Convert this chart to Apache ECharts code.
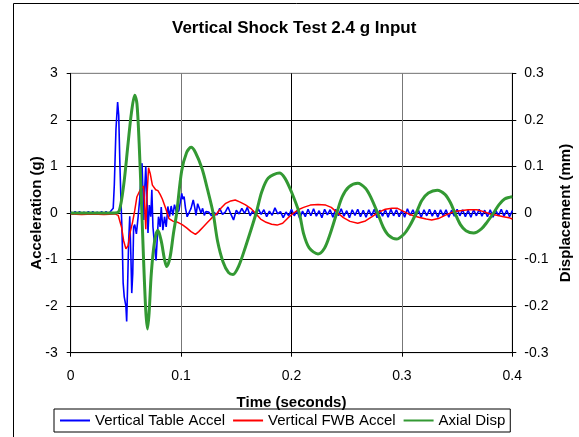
<!DOCTYPE html>
<html>
<head>
<meta charset="utf-8">
<script src="https://cdn.jsdelivr.net/npm/echarts@6/dist/echarts.min.js"></script>
<style>
  html, body { margin: 0; padding: 0; background: #fff; }
  #chart { width: 579px; height: 437px; }
</style>
</head>
<body>
<div id="chart"></div>
<script>
// time (s), acceleration (g)
const tableAccel = [
  [0.000, 0.02], [0.002, -0.03], [0.004, 0.03], [0.006, -0.02], [0.008, 0.03], [0.010, -0.03],
  [0.012, 0.02], [0.014, -0.03], [0.016, 0.03], [0.018, -0.02], [0.020, 0.03], [0.022, -0.03],
  [0.024, 0.02], [0.026, -0.02], [0.028, 0.03], [0.030, -0.03], [0.032, 0.03], [0.034, -0.02],
  [0.036, 0.03], [0.0375, 0.0], [0.0385, 0.1], [0.0395, 0.6], [0.041, 1.8], [0.0425, 2.38],
  [0.0435, 2.1], [0.0445, 1.1], [0.0455, 0.3], [0.0465, -0.4], [0.0475, -1.5], [0.0485, -1.8],
  [0.0500, -2.0], [0.0507, -2.33], [0.0515, -1.6], [0.0525, -0.6], [0.0535, -0.07], [0.0545, -0.9],
  [0.0553, -1.72], [0.0562, -1.3], [0.0570, -0.3], [0.0580, -0.25], [0.0595, -0.45], [0.0610, -0.1],
  [0.0625, 0.3], [0.0635, 0.7], [0.0646, 1.07], [0.0655, 0.4], [0.0662, -0.15], [0.0672, 0.6],
  [0.0680, 1.0], [0.0690, 0.4], [0.0700, -0.43], [0.0712, 0.17], [0.0725, -0.08], [0.0735, 0.5],
  [0.0745, -0.3], [0.0760, -0.7], [0.0773, -1.02], [0.0785, -0.5], [0.0795, -0.08], [0.0810, -0.3],
  [0.0820, 0.13], [0.0835, -0.37], [0.0850, -0.08], [0.0865, -0.3], [0.0880, 0.14], [0.0895, -0.08],
  [0.0910, 0.15], [0.0925, -0.05], [0.0940, 0.18], [0.0960, 0.0], [0.0980, 0.05], [0.1006, 0.42],
  [0.1015, 0.3], [0.1027, 0.35], [0.1040, 0.1], [0.1055, -0.08], [0.1070, -0.05], [0.1090, 0.1],
  [0.1110, 0.28], [0.1125, 0.1], [0.1135, -0.05], [0.1150, 0.2], [0.1165, 0.1], [0.1180, 0.0],
  [0.1195, 0.1], [0.1210, -0.05], [0.1225, 0.03],
  [0.125, 0.02], [0.1275, -0.06], [0.130, 0.01], [0.1325, -0.04], [0.135, 0.1], [0.1375, -0.03],
  [0.140, 0.02], [0.1425, 0.13], [0.145, -0.02], [0.1475, -0.15], [0.150, 0.06], [0.1525, -0.02],
  [0.155, 0.1], [0.1575, -0.01], [0.160, 0.12], [0.1625, -0.06], [0.165, 0.05], [0.1675, -0.07],
  [0.170, 0.09], [0.1725, -0.03], [0.175, 0.07], [0.1775, -0.08], [0.180, 0.04], [0.1825, -0.05],
  [0.185, 0.11], [0.1875, -0.02], [0.190, 0.03], [0.1925, -0.1], [0.195, 0.02], [0.1975, -0.06],
  [0.200, 0.08], [0.2025, -0.06], [0.205, 0.05], [0.2075, -0.12], [0.210, 0.04], [0.2125, -0.08],
  [0.215, 0.08], [0.2175, -0.06], [0.220, 0.09], [0.2225, -0.07], [0.225, 0.05], [0.2275, -0.1],
  [0.230, 0.08], [0.2325, -0.04], [0.235, 0.07], [0.2375, -0.09], [0.240, 0.08], [0.2425, -0.06],
  [0.245, 0.09], [0.2475, -0.07], [0.250, 0.05], [0.2525, -0.1], [0.255, 0.07], [0.2575, -0.05],
  [0.260, 0.08], [0.2625, -0.08], [0.265, 0.06], [0.2675, -0.09], [0.270, 0.07], [0.2725, -0.06],
  [0.275, 0.08], [0.2775, -0.1], [0.280, 0.06], [0.2825, -0.07], [0.285, 0.07], [0.2875, -0.09],
  [0.290, 0.08], [0.2925, -0.06], [0.295, 0.07], [0.2975, -0.08], [0.300, 0.06], [0.3025, -0.09],
  [0.305, 0.09], [0.3075, -0.05], [0.310, 0.07], [0.3125, -0.08], [0.315, 0.06], [0.3175, -0.09],
  [0.320, 0.07], [0.3225, -0.06], [0.325, 0.08], [0.3275, -0.07], [0.330, 0.06], [0.3325, -0.09],
  [0.335, 0.07], [0.3375, -0.06], [0.340, 0.07], [0.3425, -0.09], [0.345, 0.06], [0.3475, -0.07],
  [0.350, 0.08], [0.3525, -0.06], [0.355, 0.07], [0.3575, -0.08], [0.360, 0.06], [0.3625, -0.09],
  [0.365, 0.07], [0.3675, -0.06], [0.370, 0.08], [0.3725, -0.07], [0.375, 0.06], [0.3775, -0.08],
  [0.380, 0.07], [0.3825, -0.09], [0.385, 0.06], [0.3875, -0.06], [0.390, 0.08], [0.3925, -0.07],
  [0.395, 0.06], [0.3975, -0.08], [0.400, 0.05]
]

const fwbAccel = [
  [0.000, -0.02], [0.010, -0.03], [0.020, -0.02], [0.030, -0.03], [0.040, -0.02], [0.043, -0.05],
  [0.046, -0.3], [0.048, -0.6], [0.050, -0.77], [0.052, -0.7], [0.054, -0.4], [0.056, -0.2],
  [0.058, 0.05], [0.060, 0.35], [0.063, 0.5], [0.066, 0.58], [0.067, 0.2], [0.068, -0.35],
  [0.069, 0.3], [0.0705, 0.97], [0.072, 0.85], [0.074, 0.6], [0.077, 0.5], [0.079, 0.48],
  [0.081, 0.4], [0.083, 0.3], [0.086, 0.1], [0.089, -0.12], [0.093, -0.18], [0.097, -0.2],
  [0.101, -0.25], [0.105, -0.32], [0.109, -0.4], [0.113, -0.46], [0.116, -0.4], [0.120, -0.3],
  [0.124, -0.2], [0.128, -0.1], [0.132, -0.02], [0.136, 0.1], [0.140, 0.2], [0.145, 0.26],
  [0.149, 0.28], [0.153, 0.24], [0.158, 0.18], [0.163, 0.1], [0.168, -0.02], [0.172, -0.13],
  [0.177, -0.2], [0.182, -0.24], [0.187, -0.26], [0.192, -0.22], [0.197, -0.1], [0.202, 0.0],
  [0.206, 0.07], [0.211, 0.12], [0.217, 0.17], [0.224, 0.18], [0.231, 0.17], [0.236, 0.12],
  [0.241, 0.02], [0.247, -0.1], [0.253, -0.18], [0.260, -0.22], [0.267, -0.17], [0.273, -0.08],
  [0.279, 0.02], [0.285, 0.08], [0.291, 0.1], [0.296, 0.1], [0.301, 0.04], [0.306, -0.02],
  [0.312, -0.07], [0.317, -0.1], [0.322, -0.13], [0.327, -0.15], [0.333, -0.12], [0.341, -0.03],
  [0.347, 0.03], [0.353, 0.05], [0.360, 0.07], [0.368, 0.07], [0.374, 0.03], [0.380, -0.02],
  [0.386, -0.05], [0.392, -0.08], [0.397, -0.1], [0.400, -0.13]
]

// time (s), displacement (mm)
const axialDisp = [
  [0.000, 0], [0.030, 0], [0.040, 0], [0.044, 0.005], [0.048, 0.06], [0.052, 0.15], [0.055, 0.215],
  [0.058, 0.253], [0.060, 0.235], [0.062, 0.15], [0.064, 0.03], [0.066, -0.10], [0.068, -0.21],
  [0.0695, -0.249], [0.071, -0.215], [0.073, -0.13], [0.076, -0.06], [0.079, -0.037], [0.082, -0.06],
  [0.085, -0.10], [0.087, -0.115], [0.090, -0.095], [0.093, -0.045], [0.096, 0.0], [0.1005, 0.09],
  [0.105, 0.13], [0.109, 0.141], [0.113, 0.13], [0.119, 0.095], [0.124, 0.05], [0.129, 0],
  [0.133, -0.06], [0.138, -0.105], [0.143, -0.128], [0.147, -0.132], [0.152, -0.115], [0.158, -0.075],
  [0.168, 0], [0.173, 0.045], [0.179, 0.075], [0.189, 0.086], [0.194, 0.075], [0.200, 0.045],
  [0.207, 0], [0.211, -0.045], [0.216, -0.075], [0.224, -0.088], [0.230, -0.075], [0.235, -0.045],
  [0.241, 0], [0.246, 0.035], [0.252, 0.056], [0.260, 0.064], [0.267, 0.053], [0.272, 0.033],
  [0.278, 0], [0.283, -0.03], [0.288, -0.048], [0.295, -0.056], [0.302, -0.045], [0.307, -0.028],
  [0.313, 0], [0.318, 0.027], [0.324, 0.043], [0.332, 0.049], [0.339, 0.04], [0.344, 0.022],
  [0.348, 0], [0.353, -0.025], [0.358, -0.038], [0.365, -0.043], [0.372, -0.034], [0.377, -0.02],
  [0.383, 0], [0.388, 0.018], [0.393, 0.03], [0.398, 0.034], [0.400, 0.035]
]

const seriesNames = ['Vertical Table Accel', 'Vertical FWB Accel', 'Axial Disp']
const timeRange = [0, 0.4, 0.1]
const accelRange = [-3, 3, 1]
const dispRange = [-0.3, 0.3, 0.1]

const font = 'Liberation Sans, Arial, sans-serif'
const chart = echarts.init(document.getElementById('chart'))

const option = {
  backgroundColor: '#fff',
  animation: false,
  textStyle: { fontFamily: font },
  graphic: [{
    type: 'rect',
    shape: { x: 13.5, y: 3.5, width: 620, height: 500 },
    style: { fill: 'none', stroke: '#000', lineWidth: 1 },
    silent: true,
  }],
  title: {
    text: 'Vertical Shock Test 2.4 g Input',
    left: 172,
    top: 20,
    padding: 0,
    textStyle: { fontFamily: font, fontSize: 17, fontWeight: 'bold', color: '#000' },
  },
  legend: {
    data: seriesNames,
    left: 54,
    top: 409,
    padding: [4, 5],
    itemGap: 7,
    itemWidth: 30,
    itemHeight: 10,
    borderColor: '#000',
    borderWidth: 1,
    // hide the dot ECharts puts in the middle of a line legend icon
    itemStyle: { color: 'rgba(0,0,0,0)', borderColor: 'rgba(0,0,0,0)', borderWidth: 0 },
    textStyle: { fontFamily: font, fontSize: 15, color: '#000' },
  },
  grid: {
    left: 70.7,
    right: 66.7,
    top: 73.3,
    bottom: 84.3,
    outerBoundsMode: 'none',
    show: true,
    borderColor: '#888',
    borderWidth: 1,
  },
  xAxis: {
    type: 'value',
    min: timeRange[0],
    max: timeRange[1],
    interval: timeRange[2],
    name: 'Time (seconds)',
    nameLocation: 'middle',
    nameGap: 43,
    nameMoveOverlap: false,
    nameTextStyle: { fontFamily: font, fontSize: 15, fontWeight: 'bold', color: '#000' },
    axisLine: { onZero: false, lineStyle: { color: '#000', width: 1 } },
    axisTick: { show: true, length: 4, lineStyle: { color: '#000' } },
    axisLabel: { margin: 16, fontSize: 14, color: '#000' },
    splitLine: { show: true, lineStyle: { color: ['#000', '#777'], width: 1 } },
  },
  yAxis: [{
    type: 'value',
    min: accelRange[0],
    max: accelRange[1],
    interval: accelRange[2],
    name: 'Acceleration (g)',
    nameLocation: 'middle',
    nameGap: 26,
    nameMoveOverlap: false,
    nameTextStyle: { fontFamily: font, fontSize: 15, fontWeight: 'bold', color: '#000' },
    axisLine: { show: true, onZero: false, lineStyle: { color: '#000', width: 1 } },
    axisTick: { show: true, length: 4, lineStyle: { color: '#000' } },
    axisLabel: { margin: 13, fontSize: 14, color: '#000' },
    splitLine: { show: true, lineStyle: { color: ['#000', '#000', '#000', '#000', '#000', '#000', '#888'], width: 1 } },
  }, {
    type: 'value',
    min: dispRange[0],
    max: dispRange[1],
    interval: dispRange[2],
    name: 'Displacement (mm)',
    nameLocation: 'middle',
    nameGap: 46,
    nameMoveOverlap: false,
    nameTextStyle: { fontFamily: font, fontSize: 15, fontWeight: 'bold', color: '#000' },
    axisLine: { show: true, onZero: false, lineStyle: { color: '#000', width: 1 } },
    axisTick: { show: true, length: 4, lineStyle: { color: '#000' } },
    axisLabel: { margin: 12, fontSize: 14, color: '#000' },
    splitLine: { show: false },
  }],
  series: [{
    name: seriesNames[0],
    type: 'line',
    data: tableAccel,
    showSymbol: false,
    symbol: 'none',
    lineStyle: { color: '#0000ff', width: 1.6 },
    itemStyle: { color: '#0000ff' },
    z: 2,
  }, {
    name: seriesNames[1],
    type: 'line',
    data: fwbAccel,
    showSymbol: false,
    symbol: 'none',
    lineStyle: { color: '#ff0000', width: 1.5 },
    itemStyle: { color: '#ff0000' },
    z: 3,
  }, {
    name: seriesNames[2],
    type: 'line',
    yAxisIndex: 1,
    data: axialDisp,
    smooth: 0.3,
    showSymbol: false,
    symbol: 'none',
    lineStyle: { color: '#339933', width: 3 },
    itemStyle: { color: '#339933' },
    z: 4,
  }],
}

chart.setOption(option)
window.addEventListener('resize', () => {
  chart.resize()
})
</script>
</body>
</html>
